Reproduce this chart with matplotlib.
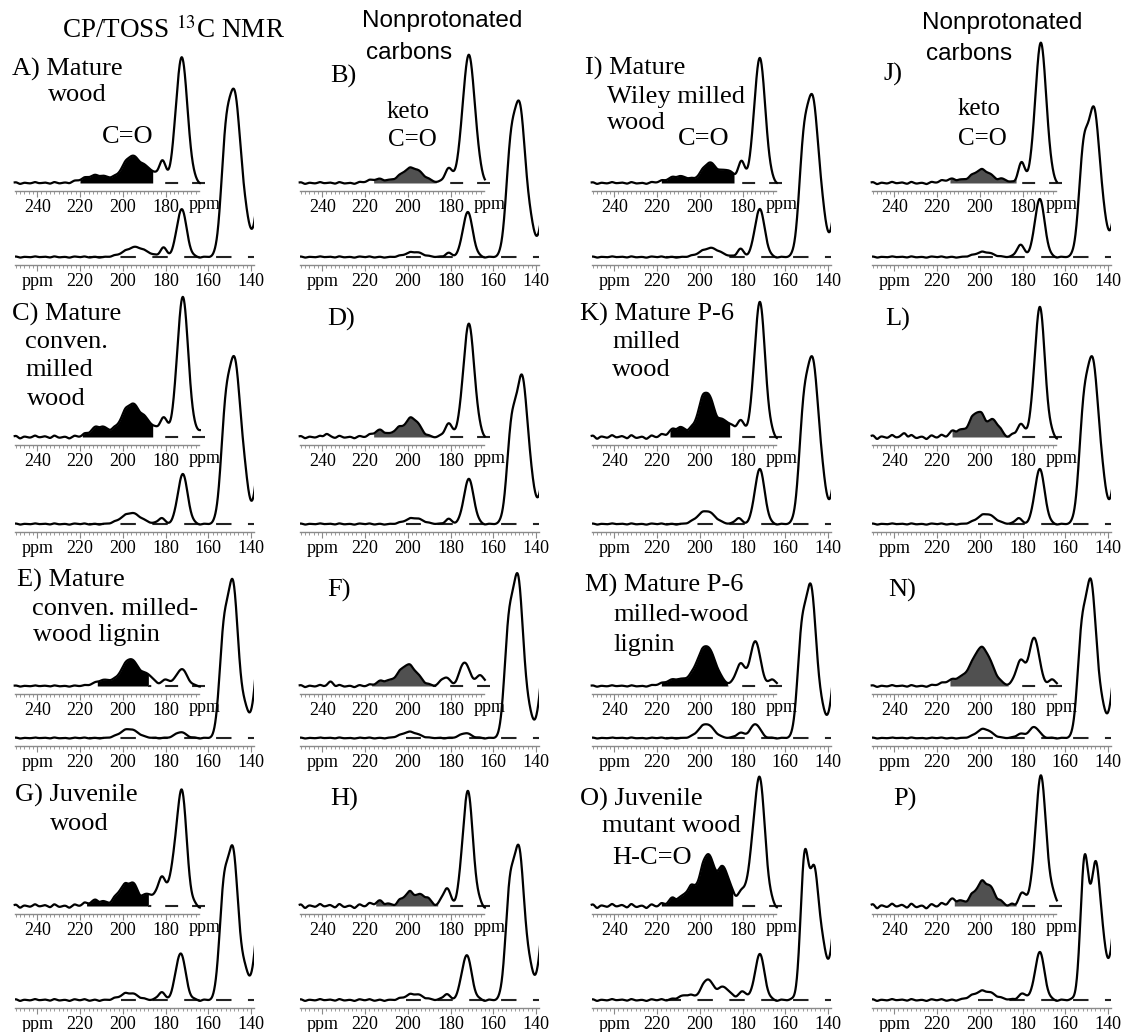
import numpy as np
import matplotlib.pyplot as plt
from matplotlib.ticker import MultipleLocator, FuncFormatter

plt.rcParams['font.family'] = ['Liberation Serif', 'DejaVu Serif']
plt.rcParams['mathtext.fontset'] = 'stix'

# peak lists: (ppm, height, width in ppm)
# lower = full CP/TOSS spectrum, inset = vertically expanded 250-165 ppm region
LOW_A = [(194, 10, 5), (181, 9, 1.5), (172.5, 48, 2.3), (152, 100, 2.2), (147.5, 150, 2.6), (142.5, 30, 2.2), (133, 160, 3)]
INS_A = [(212, 8, 6), (196, 26, 4), (188, 12, 3.5), (181.5, 20, 1.6), (172.5, 126, 2.7)]
LOW_B = [(197, 5, 4), (181, 4, 1.5), (172, 45, 2.3), (152, 95, 2.2), (147.5, 140, 2.5), (142.5, 25, 2), (133, 130, 3)]
INS_B = [(214, 4, 4), (198, 15, 5), (181, 14, 1.8), (171.5, 128, 2.9)]
LOW_C = [(196, 11, 4.5), (182, 6, 1.5), (172, 50, 2.3), (152, 100, 2.2), (147.5, 150, 2.5), (143, 35, 2), (133, 160, 3)]
INS_C = [(211, 11, 4), (196, 33, 4.5), (188, 10, 3), (181, 18, 2), (172, 140, 2.6), (163, 8, 2)]
LOW_D = [(197, 6, 4), (181, 5, 1.5), (171.5, 45, 2.3), (151.5, 90, 2.2), (146.5, 140, 2.5), (142, 25, 2), (133, 130, 3)]
INS_D = [(238, 3, 1), (213, 7, 3), (205, 6, 2), (198, 19, 3.5), (181, 13, 1.8), (171.5, 113, 2.6)]
LOW_E = [(197, 9, 4), (173, 6, 2.5), (153, 90, 2), (148.5, 150, 2.4), (143, 25, 2), (134, 150, 3)]
INS_E = [(209, 6, 4), (196.5, 27, 4), (188, 9, 2.5), (180, 6, 2), (172.5, 17, 2.5)]
LOW_F = [(199, 6, 4), (173, 5, 2.5), (153, 95, 2), (148.5, 155, 2.4), (143.5, 20, 2), (134, 130, 3)]
INS_F = [(236, 4, 1.2), (212, 5, 3), (200, 21, 4.5), (182.5, 9, 2), (173.5, 24, 2.2), (166, 10, 2.5)]
LOW_G = [(197, 7, 4), (182, 8, 1.5), (173, 47, 2.3), (153, 95, 2), (148.5, 145, 2.4), (143, 25, 2), (134, 140, 3)]
INS_G = [(212, 6, 4), (200, 17, 3), (195, 18, 2.5), (188, 12, 2.5), (182, 28, 1.8), (177, 25, 2), (172.5, 115, 2.3)]
LOW_H = [(197, 6, 4), (182, 6, 1.5), (172.5, 45, 2.3), (152.5, 95, 2), (148, 145, 2.4), (143, 25, 2), (134, 140, 3)]
INS_H = [(213, 5, 3), (199, 13, 3.5), (192, 9, 2.5), (182, 18, 1.8), (172, 115, 2.4)]
LOW_I = [(195, 9, 4.5), (181, 8, 1.5), (172, 48, 2.3), (151.5, 100, 2.2), (147, 145, 2.5), (142.5, 30, 2), (133, 140, 3)]
INS_I = [(210, 7, 5), (195.5, 20, 3.5), (187, 12, 3), (180.5, 20, 1.6), (172, 125, 2.6)]
LOW_J = [(198, 5, 4), (181, 12, 1.8), (172, 58, 2.3), (151.5, 100, 2.2), (146.5, 140, 2.5), (142, 25, 2), (133, 130, 3)]
INS_J = [(213, 4, 4), (199, 13, 4.5), (189, 3, 2), (180.5, 20, 1.6), (171.5, 140, 2.6)]
LOW_K = [(197, 13, 4), (182, 6, 1.5), (172, 55, 2.3), (151.5, 100, 2.2), (147, 150, 2.5), (142.5, 30, 2), (133, 140, 3)]
INS_K = [(210, 10, 4), (197, 45, 3.5), (188, 15, 3), (181, 15, 2), (172, 135, 2.5)]
LOW_L = [(197, 10, 4), (182, 6, 1.5), (172, 55, 2.3), (151.5, 100, 2.2), (147, 150, 2.5), (142.5, 30, 2), (133, 140, 3)]
INS_L = [(235, 4, 1), (211, 7, 3), (201, 25, 3.5), (193, 15, 2.5), (181, 12, 2), (172, 130, 2.4)]
LOW_M = [(197, 14, 3.5), (181, 5, 2), (174, 14, 2.3), (152.5, 90, 2), (148, 145, 2.4), (143, 22, 2), (134, 130, 3)]
INS_M = [(211, 7, 5), (197, 40, 4.3), (181, 22, 2.2), (174, 45, 2.3), (166, 6, 2)]
LOW_N = [(198, 9, 3.5), (181, 4, 2), (174.5, 11, 2.3), (152.5, 90, 2), (148, 150, 2.4), (143, 25, 2), (134, 130, 3)]
INS_N = [(211, 7, 5), (199, 38, 4.5), (181, 25, 2.2), (174.5, 48, 2.3), (166, 6, 2)]
LOW_O = [(206, 5, 4), (196.5, 20, 2.5), (189, 13, 3), (180, 8, 2), (172, 46, 2.2), (151, 140, 1.9), (146.5, 120, 2), (142.5, 45, 2), (134, 150, 3)]
INS_O = [(212, 8, 3), (204, 18, 3), (196.5, 50, 2.8), (189, 38, 3), (181, 10, 2), (176, 25, 2.5), (172, 122, 2.5)]
LOW_P = [(198, 9, 5), (180, 6, 2), (172, 48, 2.2), (151, 140, 1.9), (146, 125, 2), (142.5, 45, 2), (134, 150, 3)]
INS_P = [(212, 7, 3), (198, 24, 4.5), (180, 12, 2), (171.5, 130, 2.5), (165, 8, 1.5)]

# baseline ripple (ppm, relative amplitude), scaled per panel
RIPPLE_PPM = [250, 248, 246, 243.5, 241, 239, 236.5, 234, 232, 229.5, 227, 225, 222.5, 220, 218, 215.5,
              213, 211, 208.5, 206, 204, 201.5, 199, 197, 194.5, 192, 190, 187.5, 185, 183, 180.5, 178,
              176, 173.5, 171, 169, 166.5, 164, 162, 159.5, 157, 155, 152.5, 150, 148, 145.5, 143, 141, 138.5]
RIPPLE_AMP = [0.8, -1.0, 0.3, -0.4, 1.0, -0.2, 0.5, -0.7, 1.0, -0.5, 0.2, -1.0, 0.8, -0.3, 0.9, -0.8,
              0.4, -1.0, 0.2, -0.5, 0.9, -0.3, 1.0, -0.6, 0.5, -0.9, 0.3, -0.4, 0.7, -0.8, 0.6, -0.2,
              0.9, -0.7, 0.4, -0.6, 0.8, -1.0, 0.5, -0.3, 0.9, -0.5, 0.6, -0.8, 0.2, -0.4, 0.6, -0.9, 0.5]

PANELS = ['A', 'B', 'I', 'J', 'C', 'D', 'K', 'L', 'E', 'F', 'M', 'N', 'G', 'H', 'O', 'P']
LOWER = [LOW_A, LOW_B, LOW_I, LOW_J, LOW_C, LOW_D, LOW_K, LOW_L,
         LOW_E, LOW_F, LOW_M, LOW_N, LOW_G, LOW_H, LOW_O, LOW_P]
INSET = [INS_A, INS_B, INS_I, INS_J, INS_C, INS_D, INS_K, INS_L,
         INS_E, INS_F, INS_M, INS_N, INS_G, INS_H, INS_O, INS_P]
# shaded carbonyl region (from ppm, to ppm)
FILL_FROM = [220, 216, 218, 214, 219, 216, 214, 213, 212, 217, 218, 214, 217, 215, 218, 212]
FILL_TO = [186, 187, 184, 183, 186, 187, 186, 186, 188, 188, 187, 187, 188, 186, 184.5, 183]
NOISE_INSET = [0.9, 0.9, 0.9, 1.1, 1.4, 1.2, 1.8, 2.0, 0.6, 1.1, 0.7, 0.9, 1.7, 2.0, 2.0, 2.3]
NOISE_LOW = [0.6, 0.6, 0.6, 0.6, 0.6, 0.6, 0.6, 0.6, 0.5, 0.5, 0.5, 0.5, 0.9, 0.9, 0.9, 0.9]
DASH_FROM = [216, 201, 216, 201, 216, 201, 216, 201, 216, 201, 216, 201, 201, 201, 216, 201]

W, H = 1129, 1032
COL_OFF = [0, 285, 577, 857]
PX_PER_PPM = 2.14
LOWER_RULER = [265, 532, 746, 1008]
INSET_RULER = [191, 445, 694, 914]
BASE_OFF = 8
TICK_SIZE = 13
LW = 1.5

fig = plt.figure(figsize=(W / 100, H / 100), dpi=100)


def xpix(col, ppm):
    return COL_OFF[col] + 80 + (220 - ppm) * PX_PER_PPM


def px_axes(left, top, right, bottom):
    return fig.add_axes([left / W, 1 - bottom / H, (right - left) / W, (bottom - top) / H])


def spectrum(ppm, peaks, noise):
    y = np.zeros_like(ppm)
    for c, h, s in peaks:
        y += h * np.exp(-0.5 * ((ppm - c) / s) ** 2)
    for c, a in zip(RIPPLE_PPM, RIPPLE_AMP):
        y += noise * a * np.exp(-0.5 * ((ppm - c) / 0.8) ** 2)
    return y


def style(ax, lower):
    ax.patch.set_alpha(0)
    for s in ['top', 'left', 'right']:
        ax.spines[s].set_visible(False)
    ax.spines['bottom'].set_color('#8a8a8a')
    ax.spines['bottom'].set_linewidth(1.0)
    ax.set_yticks([])
    ax.xaxis.set_major_locator(MultipleLocator(20))
    ax.xaxis.set_minor_locator(MultipleLocator(2))
    ax.tick_params(axis='x', which='major', length=4, width=0.8, color='#8a8a8a',
                   labelsize=TICK_SIZE, pad=1.5)
    ax.tick_params(axis='x', which='minor', length=2.2, width=0.6, color='#8a8a8a')
    if lower:
        ax.xaxis.set_major_formatter(FuncFormatter(lambda v, p: 'ppm' if round(v) == 240 else f'{v:.0f}'))
    else:
        ax.xaxis.set_major_formatter(FuncFormatter(lambda v, p: f'{v:.0f}'))


for i, name in enumerate(PANELS):
    row, col = divmod(i, 4)
    fill_col = 'black' if col in (0, 2) else '#505050'

    # full spectrum
    ax = px_axes(xpix(col, 250.5), LOWER_RULER[row] - 240, xpix(col, 138.5), LOWER_RULER[row])
    style(ax, True)
    ax.set_xlim(250.5, 138.5)
    ax.set_ylim(-BASE_OFF, 240 - BASE_OFF)
    x = np.linspace(250.5, 137.5, 1200)
    # dash pattern in units of line width, anchored at the right end
    ax.plot([138.5, DASH_FROM[i]], [0, 0], color='#222222', lw=LW, ls=(4.5, (7.4, 7.9)))
    ax.plot(x, spectrum(x, LOWER[i], NOISE_LOW[i]), color='black', lw=1.6)

    # expanded inset
    ax2 = px_axes(xpix(col, 250.5), INSET_RULER[row] - 175, xpix(col, 164.5), INSET_RULER[row])
    style(ax2, False)
    ax2.set_xlim(250.5, 164.5)
    ax2.set_ylim(-BASE_OFF, 175 - BASE_OFF)
    x2 = np.linspace(250.5, 164.0, 900)
    y2 = spectrum(x2, INSET[i], NOISE_INSET[i])
    ax2.plot([161.5, FILL_TO[i]], [0, 0], color='#222222', lw=LW, ls=(0, (6.2, 6.7)), clip_on=False)
    mask = (x2 <= FILL_FROM[i]) & (x2 >= FILL_TO[i])
    ax2.fill_between(x2, 0, y2, where=mask, color=fill_col, lw=0)
    ax2.plot(x2, y2, color='black', lw=1.6, clip_on=False)
    ax2.annotate('ppm', xy=(169, 0), xycoords=ax2.get_xaxis_transform(), xytext=(0, -3.5),
                 textcoords='offset points', fontsize=TICK_SIZE, ha='left', va='top')


def label(txt, x, y, size=19, family=None):
    kw = {} if family is None else {'family': family}
    fig.text(x / W, 1 - (y + 2) / H, txt, fontsize=size, ha='left', va='center', **kw)


sans = ['Liberation Sans', 'DejaVu Sans']
label('CP/TOSS $^{13}$C NMR', 62, 28, 19.5)
label('A) Mature', 12, 67)
label('wood', 48, 93)
label('C=O', 102, 135)
label('Nonprotonated', 362, 19, 17.5, sans)
label('carbons', 366, 51, 17.5, sans)
label('B)', 330, 74)
label('keto', 387, 110, 18)
label('C=O', 388, 138, 18)
label('I) Mature', 585, 66)
label('Wiley milled', 607, 95)
label('wood', 607, 121)
label('C=O', 678, 137)
label('Nonprotonated', 922, 21, 17.5, sans)
label('carbons', 926, 52, 17.5, sans)
label('J)', 883, 72)
label('keto', 958, 107, 18)
label('C=O', 958, 137, 18)

label('C) Mature', 12, 312)
label('conven.', 25, 340)
label('milled', 25, 368)
label('wood', 27, 397)
label('D)', 327, 317)
label('K) Mature P-6', 580, 312)
label('milled', 612, 340)
label('wood', 612, 368)
label('L)', 885, 317)

label('E) Mature', 17, 578)
label('conven. milled-', 32, 607)
label('wood lignin', 33, 633)
label('F)', 327, 588)
label('M) Mature P-6', 585, 583)
label('milled-wood', 613, 613)
label('lignin', 613, 643)
label('N)', 888, 588)

label('G) Juvenile', 15, 793)
label('wood', 50, 822)
label('H)', 330, 797)
label('O) Juvenile', 580, 797)
label('mutant wood', 602, 824)
label('H-C=O', 612, 856)
label('P)', 893, 797)

fig.savefig('out.png', dpi=100)
